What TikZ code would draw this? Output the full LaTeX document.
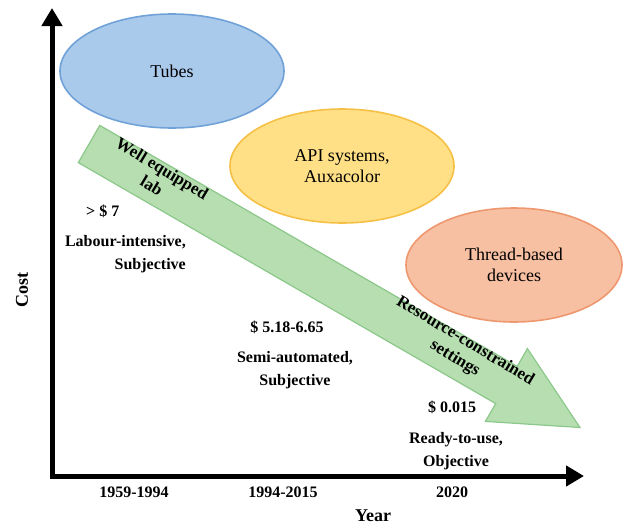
\documentclass[tikz,border=0pt]{standalone}
\usepackage{fontspec}
\setmainfont{Liberation Serif}
\usetikzlibrary{arrows.meta,shapes.geometric}
\definecolor{tubeF}{RGB}{170,202,236}
\definecolor{tubeD}{RGB}{112,162,216}
\definecolor{apiF}{RGB}{255,224,135}
\definecolor{apiD}{RGB}{246,192,70}
\definecolor{thrF}{RGB}{248,192,162}
\definecolor{thrD}{RGB}{238,152,112}
\definecolor{grnF}{RGB}{182,222,176}
\definecolor{grnD}{RGB}{140,200,138}
\tikzset{
  blob/.style={ellipse, draw, line width=1.6pt, inner sep=0pt, font=\fontsize{18}{21}\selectfont, align=center},
  lbl/.style={font=\bfseries\fontsize{16}{23}\selectfont, align=center, inner sep=0pt},
  arrtxt/.style={font=\bfseries\fontsize{17}{20}\selectfont, align=center, inner sep=0pt, rotate=-31},
  axis/.style={line width=5pt, {Triangle[length=18pt,width=20pt]}-{Triangle[length=18pt,width=20pt]}}
}
\begin{document}
\begin{tikzpicture}[x=1pt,y=-1pt]
\useasboundingbox (0,0) rectangle (626,525);
% ellipses
\node[blob, fill=tubeF, draw=tubeD, minimum width=224pt, minimum height=114pt] (tubes) at (172,71) {Tubes};
\node[blob, fill=apiF, draw=apiD, minimum width=224pt, minimum height=114pt] (api) at (342,166) {API systems,\\Auxacolor};
\node[blob, fill=thrF, draw=thrD, minimum width=216pt, minimum height=114pt] (thread) at (514,265) {Thread-based\\devices};
% green arrow
\coordinate (A) at (99.8,125.4);
\coordinate (C) at (517.2,366.4);
\coordinate (D) at (527.4,348.6);
\coordinate (T) at (580,427.5);
\coordinate (E) at (485.4,421.4);
\coordinate (F) at (495.7,403.6);
\coordinate (B) at (78.3,162.6);
\draw[fill=grnF, draw=grnD, line width=1.2pt, line join=miter] (A) -- (C) -- (D) -- (T) -- (E) -- (F) -- (B) -- cycle;
\node[arrtxt] (well) at (157,177) {Well equipped\\lab};
\node[arrtxt] (res) at (460,350) {Resource-constrained\\settings};
% axes
\coordinate (O) at (52,476);
\coordinate (Ytop) at (52,8);
\coordinate (Xend) at (584,476);
\draw[axis, line join=miter] (Ytop) -- (O) -- (Xend);
% labels
\node[lbl, anchor=west] (p1) at (86,211) {> \$ 7};
\node[lbl, align=right, anchor=north east] (d1) at (186,235) {Labour-intensive,\\Subjective};
\node[lbl] (p2) at (287,327) {\$ 5.18-6.65};
\node[lbl] (d2) at (295,370) {Semi-automated,\\Subjective};
\node[lbl] (p3) at (452,407) {\$ 0.015};
\node[lbl] (d3) at (456,451) {Ready-to-use,\\Objective};
\node[lbl] (y1) at (134,492) {1959-1994};
\node[lbl] (y2) at (283,492) {1994-2015};
\node[lbl] (y3) at (452,492) {2020};
\node[lbl, font=\bfseries\fontsize{18}{20}\selectfont] (year) at (373,516) {Year};
\node[lbl, font=\bfseries\fontsize{18}{20}\selectfont, rotate=90] (cost) at (22,290) {Cost};
\end{tikzpicture}
\end{document}
